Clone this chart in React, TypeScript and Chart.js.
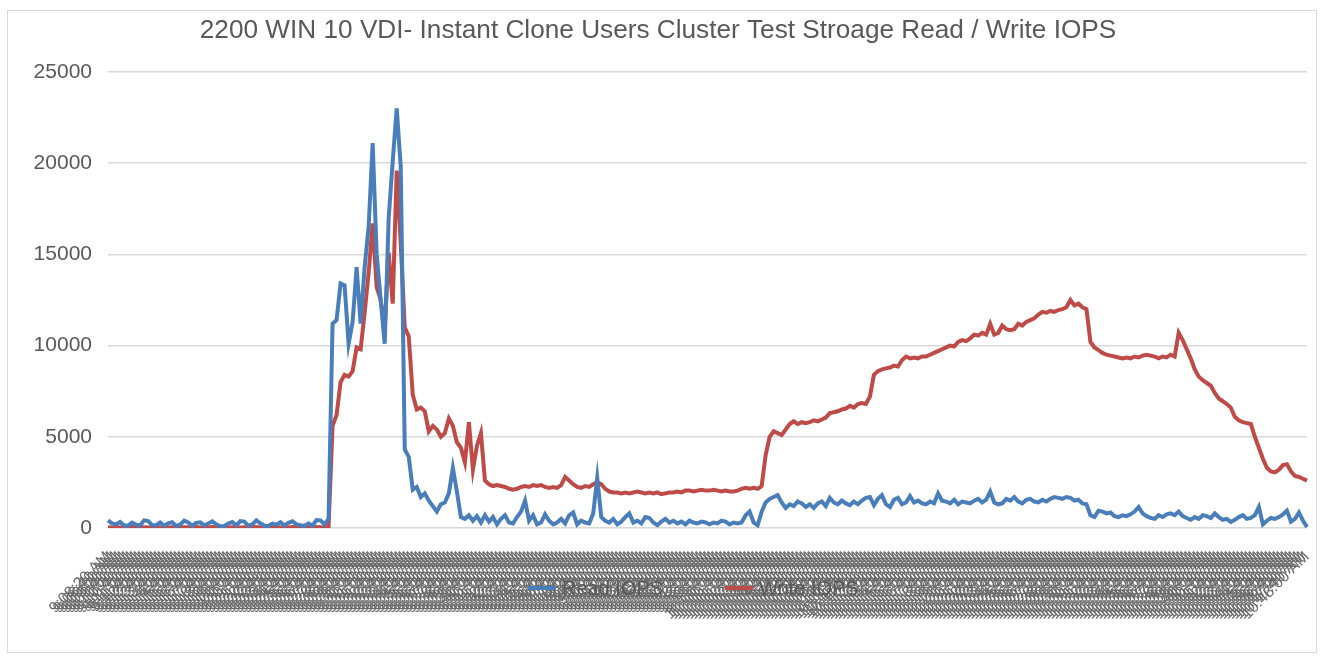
import React, { useEffect, useRef } from "react";
import { Chart, registerables } from "chart.js";

Chart.register(...registerables);

const chartTitle = "2200 WIN 10 VDI- Instant Clone Users Cluster Test Stroage Read / Write IOPS";
const seriesNames = ["Read IOPS", "Write IOPS"];
const yTicks = [0, 5000, 10000, 15000, 20000, 25000];

// Sample timestamps (20 s interval)
const startSeconds = 9 * 3600 + 8 * 60 + 20;
const stepSeconds = 20;
const pointCount = 300;
const timeLabels: string[] = [];
for (let i = 0; i < pointCount; i++) {
  const t = startSeconds + i * stepSeconds;
  const h = Math.floor(t / 3600);
  const m = Math.floor((t % 3600) / 60);
  const s = t % 60;
  const hh = h > 12 ? h - 12 : h;
  timeLabels.push(`${hh}:${String(m).padStart(2, "0")}:${String(s).padStart(2, "0")} ${h >= 12 ? "PM" : "AM"}`);
}

const readIops = [
  420, 250, 200, 330, 150, 120, 300, 180, 140, 420,
  380, 160, 150, 300, 120, 250, 320, 110, 180, 400,
  300, 120, 280, 310, 140, 250, 360, 200, 110, 100,
  240, 330, 150, 380, 350, 130, 200, 420, 260, 120,
  110, 240, 180, 320, 140, 280, 370, 200, 150, 120,
  250, 130, 440, 420, 200, 500, 11200, 11400, 13400, 13300,
  10100, 11300, 14300, 11200, 14300, 16500, 21100, 15000, 12500, 10100,
  17000, 20100, 23000, 19800, 4300, 3900, 2100, 2250, 1700, 1900,
  1500, 1200, 900, 1300, 1400, 1900, 3300, 2000, 600, 500,
  700, 400, 650, 300, 700, 350, 600, 200, 500, 700,
  300, 250, 600, 900, 1500, 400, 700, 200, 300, 750,
  400, 200, 300, 500, 250, 700, 850, 200, 400, 300,
  250, 800, 2750, 600, 400, 300, 500, 200, 350, 600,
  800, 300, 400, 250, 600, 550, 300, 150, 350, 500,
  300, 400, 250, 350, 200, 400, 300, 250, 350, 300,
  200, 300, 250, 400, 350, 200, 300, 250, 300, 700,
  900, 300, 150, 900, 1400, 1600, 1700, 1800, 1400, 1100,
  1300, 1200, 1450, 1350, 1150, 1300, 1100, 1350, 1450, 1200,
  1650, 1400, 1300, 1500, 1350, 1250, 1450, 1300, 1500, 1650,
  1700, 1250, 1600, 1800, 1300, 1150, 1550, 1650, 1300, 1400,
  1750, 1400, 1500, 1350, 1300, 1450, 1350, 1900, 1500, 1450,
  1350, 1550, 1300, 1450, 1400, 1350, 1500, 1600, 1400, 1550,
  2000, 1400, 1300, 1350, 1600, 1500, 1700, 1450, 1350, 1550,
  1600, 1450, 1400, 1550, 1450, 1600, 1700, 1650, 1600, 1700,
  1650, 1500, 1550, 1350, 1300, 700, 600, 950, 900, 800,
  850, 650, 600, 700, 650, 750, 900, 1150, 800, 650,
  550, 500, 700, 600, 750, 800, 700, 900, 650, 550,
  450, 600, 500, 700, 650, 550, 800, 600, 450, 500,
  330, 450, 600, 700, 500, 550, 700, 1150, 200, 400,
  550, 500, 600, 750, 950, 350, 500, 850, 400, 50,
];

const writeIops = [
  40, 30, 50, 30, 40, 30, 50, 40, 30, 40,
  30, 40, 50, 30, 40, 30, 40, 50, 30, 40,
  40, 30, 50, 30, 40, 30, 50, 40, 30, 40,
  30, 40, 50, 30, 40, 30, 40, 50, 30, 40,
  40, 30, 50, 30, 40, 30, 50, 40, 30, 40,
  40, 30, 50, 40, 30, 60, 5600, 6200, 8000, 8400,
  8300, 8600, 9900, 9800, 11800, 14000, 16700, 13200, 12500, 11000,
  15100, 12300, 19600, 15600, 11000, 10500, 7300, 6500, 6600, 6400,
  5300, 5600, 5400, 5000, 5200, 6000, 5600, 4700, 4400, 3600,
  5800, 3200, 4500, 5200, 2600, 2400, 2300, 2350, 2300, 2250,
  2150, 2100, 2150, 2250, 2300, 2250, 2350, 2300, 2350, 2250,
  2200, 2250, 2200, 2350, 2800, 2600, 2400, 2250, 2200, 2300,
  2250, 2400, 2500, 2400, 2150, 2000, 1950, 1950, 1900, 1950,
  1900, 1950, 2000, 1950, 1900, 1950, 1900, 1950, 1850, 1900,
  1950, 1950, 2000, 1950, 2050, 2050, 2000, 2050, 2100, 2050,
  2050, 2100, 2050, 2000, 2050, 2000, 2000, 2050, 2150, 2200,
  2150, 2200, 2150, 2300, 4000, 5000, 5300, 5200, 5100, 5400,
  5700, 5850, 5700, 5800, 5750, 5800, 5900, 5850, 5950, 6050,
  6300, 6350, 6400, 6500, 6550, 6700, 6600, 6800, 6850, 6800,
  7200, 8400, 8600, 8700, 8750, 8800, 8900, 8850, 9200, 9400,
  9300, 9350, 9300, 9400, 9400, 9500, 9600, 9700, 9800, 9900,
  10000, 9950, 10200, 10300, 10250, 10400, 10600, 10550, 10700, 10600,
  11200, 10600, 10700, 11100, 10900, 10850, 10900, 11200, 11100, 11300,
  11400, 11500, 11700, 11850, 11800, 11900, 11850, 11950, 12000, 12100,
  12500, 12200, 12300, 12100, 12000, 10200, 9900, 9750, 9600, 9500,
  9450, 9400, 9350, 9300, 9350, 9300, 9400, 9350, 9450, 9500,
  9450, 9400, 9300, 9400, 9350, 9500, 9400, 10700, 10300, 9800,
  9300, 8700, 8300, 8100, 7950, 7800, 7400, 7100, 6950, 6800,
  6600, 6100, 5900, 5800, 5750, 5700, 5000, 4400, 3800, 3300,
  3100, 3050, 3200, 3450, 3500, 3100, 2850, 2800, 2700, 2600,
];

const colors = ["#4A7EBB", "#BE4B48"];
const textColor = "#595959";
const gridColor = "#D9D9D9";
const fontFamily = "'Liberation Sans', Arial, sans-serif";

const W = 1308;
const H = 641;

const overlayPlugin = {
  id: "overlay",
  afterDraw(chart: any) {
    const ctx = chart.ctx;
    ctx.save();
    // title
    ctx.fillStyle = textColor;
    ctx.font = `26.2px ${fontFamily}`;
    ctx.textAlign = "center";
    ctx.textBaseline = "middle";
    ctx.fillText(chartTitle, 650, 20);
    // legend
    const entries = [
      { x: 520, label: seriesNames[0], color: colors[0] },
      { x: 717, label: seriesNames[1], color: colors[1] },
    ];
    ctx.font = `20px ${fontFamily}`;
    ctx.textAlign = "left";
    entries.forEach((e) => {
      ctx.strokeStyle = e.color;
      ctx.lineWidth = 4;
      ctx.beginPath();
      ctx.moveTo(e.x, 577);
      ctx.lineTo(e.x + 28, 577);
      ctx.stroke();
      ctx.fillStyle = textColor;
      ctx.fillText(e.label, e.x + 34, 578);
    });
    ctx.restore();
  },
};

export default function App() {
  const ref = useRef<HTMLCanvasElement | null>(null);
  useEffect(() => {
    if (!ref.current) return;
    const chart = new Chart(ref.current, {
      type: "line",
      data: {
        labels: timeLabels,
        datasets: [
          {
            label: seriesNames[0],
            data: readIops,
            borderColor: colors[0],
            backgroundColor: colors[0],
            borderWidth: 4,
            pointRadius: 0,
            tension: 0,
          },
          {
            label: seriesNames[1],
            data: writeIops,
            borderColor: colors[1],
            backgroundColor: colors[1],
            borderWidth: 4,
            pointRadius: 0,
            tension: 0,
          },
        ],
      },
      options: {
        responsive: false,
        animation: false,
        devicePixelRatio: 1,
        layout: { padding: { top: 61, right: 9, left: 0, bottom: 0 } },
        plugins: {
          legend: { display: false },
          title: { display: false },
          tooltip: { enabled: false },
        },
        scales: {
          x: {
            type: "category",
            offset: false,
            grid: { display: false, drawTicks: false },
            border: { display: false },
            ticks: {
              autoSkip: false,
              maxRotation: 45,
              minRotation: 45,
              padding: 20,
              color: "#6A6A6A",
              font: { family: fontFamily, size: 15.5 },
            },
            afterFit: (scale: any) => {
              scale.height = 124;
              scale.paddingRight = 0;
              scale.paddingLeft = 0;
            },
          },
          y: {
            min: 0,
            max: 25000,
            afterBuildTicks: (scale: any) => {
              scale.ticks = yTicks.map((v) => ({ value: v }));
            },
            grid: { color: gridColor, lineWidth: 1.5, drawTicks: false },
            border: { display: false },
            ticks: {
              padding: 16,
              color: textColor,
              font: { family: fontFamily, size: 21 },
              callback: (v: any) => String(v),
            },
            afterFit: (scale: any) => {
              scale.width = 100;
            },
          },
        },
      },
      plugins: [overlayPlugin],
    });
    return () => chart.destroy();
  }, []);

  return (
    <div
      style={{
        position: "absolute",
        left: 7,
        top: 10,
        width: W + 2,
        height: H + 2,
        border: "1px solid #D9D9D9",
        boxSizing: "border-box",
        background: "#fff",
      }}
    >
      <canvas ref={ref} width={W} height={H} style={{ display: "block" }} />
    </div>
  );
}
